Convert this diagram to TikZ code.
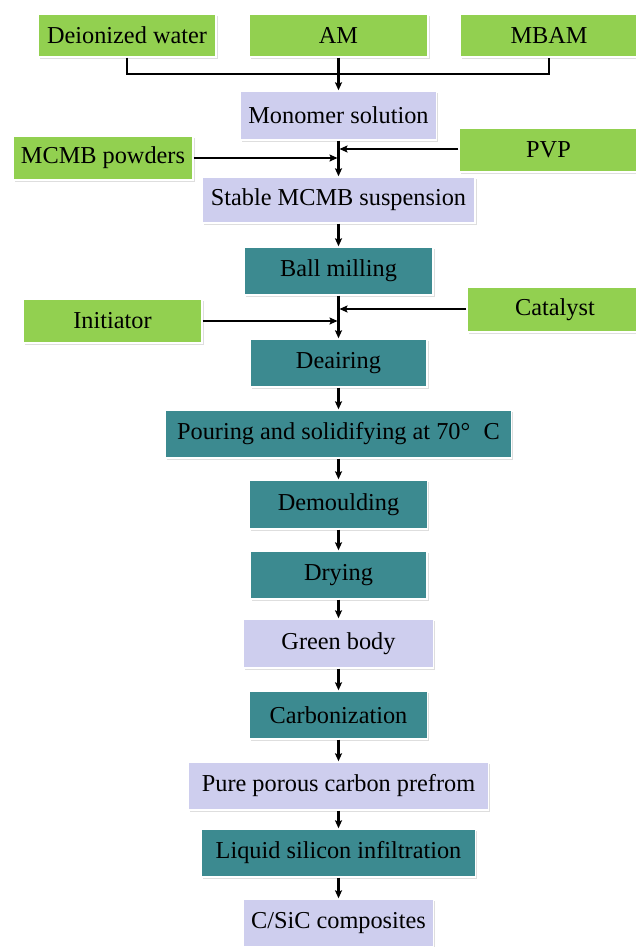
\documentclass[tikz,border=0pt]{standalone}
\usepackage{fontspec}
\setmainfont{Liberation Serif}
\usetikzlibrary{arrows.meta,shadows}
\definecolor{cgreen}{RGB}{146,208,80}
\definecolor{cteal}{RGB}{60,138,144}
\definecolor{clav}{RGB}{206,206,238}
\begin{document}
\begin{tikzpicture}[x=1pt,y=-1pt,
  box/.style={draw=white,line width=1.4pt,inner sep=0pt,anchor=center,
    font=\fontsize{24.3}{28}\selectfont,
    drop shadow={shadow xshift=1.8pt,shadow yshift=-2.4pt,fill=black!25}},
  gbox/.style={box,fill=cgreen},
  tbox/.style={box,fill=cteal},
  lbox/.style={box,fill=clav},
  conn/.style={line width=2.1pt,black},
  arr/.style={conn,-{Stealth[length=8pt,width=7pt,inset=1.5pt]}},
  sarr/.style={arr,shorten >=1pt}]
\useasboundingbox[fill=white] (0,0) rectangle (635,947);
% input row
\node[gbox,minimum width=178pt,minimum height=43pt] (dw) at (127,35.5) {Deionized water};
\node[gbox,minimum width=179pt,minimum height=43pt] (am) at (338.5,35.5) {AM};
\node[gbox,minimum width=178pt,minimum height=43pt] (mbam) at (549,35.5) {MBAM};
% main column
\node[lbox,minimum width=196pt,minimum height=49pt] (mono) at (338.5,115.5) {Monomer solution};
\node[gbox,minimum width=180pt,minimum height=44pt] (mcmb) at (103,158) {MCMB powders};
\node[gbox,minimum width=179pt,minimum height=44pt] (pvp) at (548.5,150) {PVP};
\node[lbox,minimum width=273pt,minimum height=46pt] (stable) at (338.5,200) {Stable MCMB suspension};
\node[tbox,minimum width=189pt,minimum height=48pt] (ball) at (338.5,271) {Ball milling};
\node[gbox,minimum width=179pt,minimum height=44pt] (init) at (112.5,321) {Initiator};
\node[gbox,minimum width=176pt,minimum height=45pt] (cat) at (555,309.5) {Catalyst};
\node[tbox,minimum width=177pt,minimum height=48pt] (dear) at (338.5,363) {Deairing};
\node[tbox,minimum width=346pt,minimum height=48pt] (pour) at (338.5,434) {Pouring and solidifying at 70°\hspace{0.55em}C};
\node[tbox,minimum width=178pt,minimum height=49pt] (demo) at (338.5,504.5) {Demoulding};
\node[tbox,minimum width=177pt,minimum height=48pt] (dry) at (338.5,575) {Drying};
\node[lbox,minimum width=190pt,minimum height=49pt] (green) at (338.5,643.5) {Green body};
\node[tbox,minimum width=178pt,minimum height=48pt] (carb) at (338.5,715) {Carbonization};
\node[lbox,minimum width=300pt,minimum height=48pt] (pure) at (338.5,786) {Pure porous carbon prefrom};
\node[tbox,minimum width=274pt,minimum height=48pt] (liq) at (338.5,853) {Liquid silicon infiltration};
\node[lbox,minimum width=190pt,minimum height=48pt] (csic) at (338.5,923) {C/SiC composites};
% connectors
\coordinate (bus) at (0,74);
\draw[conn] (dw.south) -- (dw.south |- bus) -- (mbam.south |- bus) -- (mbam.south);
\draw[arr] (am.south) -- (mono.north);
\draw[arr] (mono.south) -- (stable.north);
\draw[sarr] (mcmb.east) -- (mcmb.east -| mono.south);
\draw[sarr] (pvp.west |- 0,149) -- (mono.south |- 0,149);
\draw[arr] (stable.south) -- (ball.north);
\draw[arr] (ball.south) -- (dear.north);
\draw[sarr] (init.east) -- (init.east -| ball.south);
\draw[sarr] (cat.west |- 0,309) -- (ball.south |- 0,309);
\draw[arr] (dear.south) -- (pour.north);
\draw[arr] (pour.south) -- (demo.north);
\draw[arr] (demo.south) -- (dry.north);
\draw[arr] (dry.south) -- (green.north);
\draw[arr] (green.south) -- (carb.north);
\draw[arr] (carb.south) -- (pure.north);
\draw[arr] (pure.south) -- (liq.north);
\draw[arr] (liq.south) -- (csic.north);
\end{tikzpicture}
\end{document}
